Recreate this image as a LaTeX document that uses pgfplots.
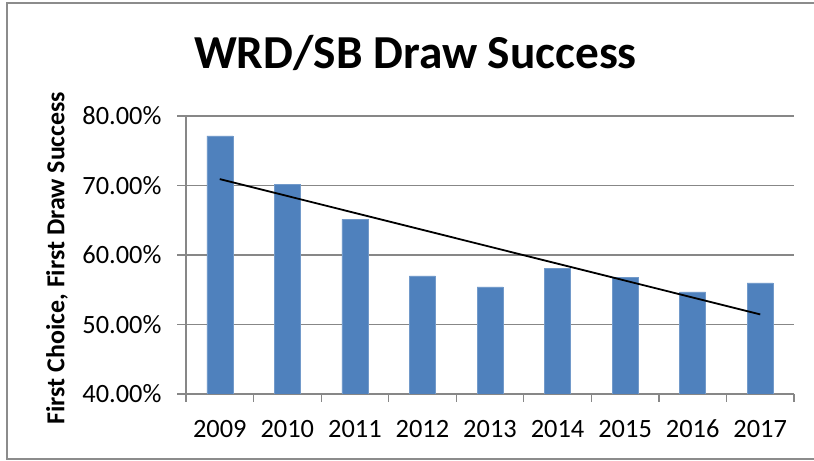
\documentclass[border=0pt]{standalone}
\usepackage{fontspec}
\setmainfont{Carlito}
\usepackage{pgfplots}
\pgfplotsset{compat=1.18}
\definecolor{barblue}{HTML}{4F81BD}
\definecolor{gridgray}{HTML}{878787}
\definecolor{framegray}{HTML}{8C8C8C}
\begin{document}
\begin{tikzpicture}[x=1bp,y=1bp]
\useasboundingbox (0,0) rectangle (814,461);
\draw[framegray, line width=1.2bp] (7,2) rectangle (820,458);
\begin{axis}[
  at={(186bp,67bp)}, anchor=south west,
  scale only axis,
  width=608bp, height=278bp,
  xmin=-0.5, xmax=8.5,
  ymin=40, ymax=80,
  axis lines*=left,
  axis line style={gridgray, line width=1.2bp, -},
  ymajorgrids,
  grid style={gridgray, line width=1.2bp},
  ytick={40,50,60,70,80},
  yticklabels={40.00\%,50.00\%,60.00\%,70.00\%,80.00\%},
  xtick={0,...,8},
  xticklabels={2009,2010,2011,2012,2013,2014,2015,2016,2017},
  minor xtick={-0.5,0.5,...,8.5},
  x tick style={draw=none},
  minor x tick style={draw=gridgray, line width=1.2bp},
  y tick style={draw=gridgray, line width=1.2bp},
  tick align=outside,
  minor tick length=8bp,
  major tick length=9bp,
  xmajorticks=true,
  ticklabel style={font=\fontsize{26.5}{30}\selectfont},
  yticklabel style={xshift=-12bp},
  xticklabel style={yshift=-14bp, text height=17bp, text depth=0pt},
  /pgf/number format/assume math mode=true,
  clip=true,
]
\addplot[ybar, bar width=26bp, fill=barblue, draw=barblue!80!white] coordinates {
 (0,77.14) (1,70.14) (2,65.14) (3,57.0) (4,55.4) (5,58.1) (6,56.8) (7,54.7) (8,56.0)
};
\addplot[black, line width=1.8bp, sharp plot, mark=none] coordinates {
 (0,70.92) (8,51.45)
};
\end{axis}
\node[anchor=base, font=\bfseries\fontsize{47.5}{54}\selectfont] at (415.5,392) {WRD/SB Draw Success};
\node[rotate=90, anchor=center, font=\bfseries\fontsize{26}{30}\selectfont] at (57,203) {First Choice, First Draw Success};
\end{tikzpicture}
\end{document}
